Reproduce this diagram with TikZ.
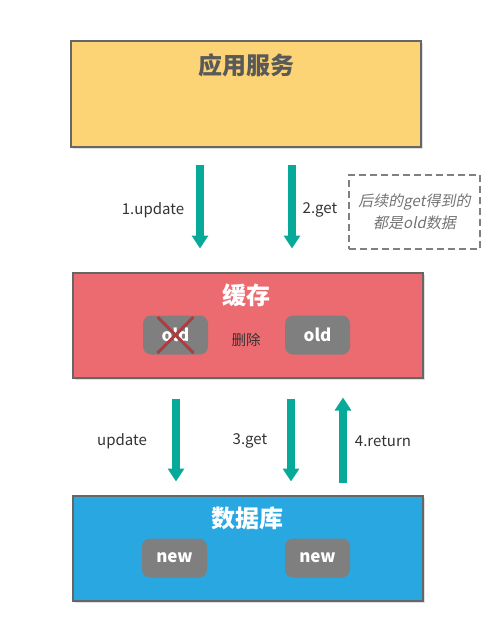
\documentclass[tikz,border=0pt]{standalone}
\usepackage{fontspec}
\setmainfont{Noto Sans CJK SC}
\newfontfamily\slantfont[FakeSlant=0.2]{Noto Sans CJK SC}
\usetikzlibrary{arrows.meta,shadows}

\definecolor{appyellow}{HTML}{FDD475}
\definecolor{cachered}{HTML}{EC6B70}
\definecolor{dbblue}{HTML}{29A7E1}
\definecolor{flowteal}{HTML}{07AA98}
\definecolor{keygray}{HTML}{7F7F7F}
\definecolor{borderg}{HTML}{666666}
\definecolor{crossred}{HTML}{A9403F}

\tikzset{
    box/.style={draw=borderg, line width=2pt, minimum width=350pt, minimum height=105pt,
        drop shadow={opacity=0.25, shadow xshift=2pt, shadow yshift=-2pt}},
    boxtitle/.style={font=\bfseries\fontsize{24}{26}\selectfont},
    keybox/.style={fill=keygray, rounded corners=8pt, minimum width=65pt, minimum height=39pt,
        text=white, font=\bfseries\fontsize{17}{19}\selectfont},
    flow/.style={flowteal, line width=8pt, -{Triangle[width=16pt,length=13pt]}},
    lbl/.style={text=black!80, font=\fontsize{15}{17}\selectfont}
}

\begin{document}
\begin{tikzpicture}[x=1pt, y=-1pt]
            \useasboundingbox (0,0) rectangle (500,642);
            % boxes
            \node[box, fill=appyellow] (app) at (246,94) {};
            \node[box, fill=cachered] (cache) at (247.5,325) {};
            \node[box, fill=dbblue] (db) at (247.5,548) {};
            \node[boxtitle, text=black!65] (apptitle) at (246,65) {应用服务};
            \node[boxtitle, text=white] (cachetitle) at (246,295) {缓存};
            \node[boxtitle, text=white] (dbtitle) at (247,518) {数据库};
            % keys
            \node[keybox] (oldA) at (175.5,335) {old};
            \node[keybox] (oldB) at (317.5,335) {old};
            \node[keybox] (newA) at (174.5,558) {new};
            \node[keybox] (newB) at (317.5,558) {new};
            \draw[crossred, line width=3pt] (oldA.center) ++(-18,-18) -- ++(36,36);
            \draw[crossred, line width=3pt] (oldA.center) ++(18,-18) -- ++(-36,36);
            \node[text=black!80, font=\fontsize{14.5}{16}\selectfont] (del) at (246,340) {删除};
            % arrows
            \draw[flow, shorten <=17pt, shorten >=23pt] (app.south -| 200,0) -- (cache.north -| 200,0);
            \draw[flow, shorten <=17pt, shorten >=23pt] (app.south -| 292,0) -- (cache.north -| 292,0);
            \draw[flow, shorten <=20pt, shorten >=13pt] (cache.south -| 176,0) -- (db.north -| 176,0);
            \draw[flow, shorten <=20pt, shorten >=13pt] (cache.south -| 291,0) -- (db.north -| 291,0);
            \draw[flow, shorten <=12pt, shorten >=19pt] (db.north -| 343,0) -- (cache.south -| 343,0);
            \node[lbl] (l1) at (153,210) {1.update};
            \node[lbl] (l2) at (320,210) {2.get};
            \node[lbl] (l3) at (122,441) {update};
            \node[lbl] (l4) at (250,441) {3.get};
            \node[lbl] (l5) at (383,441) {4.return};
            % note
            \node[draw=black!50, dash pattern=on 7pt off 4pt, line width=1.2pt, minimum width=131pt, minimum height=74pt,
                text=black!55, align=center, font=\slantfont\fontsize{15}{22}\selectfont] (note) at (414.5,212)
                {后续的get得到的\\都是old数据};
        \end{tikzpicture}
\end{document}
